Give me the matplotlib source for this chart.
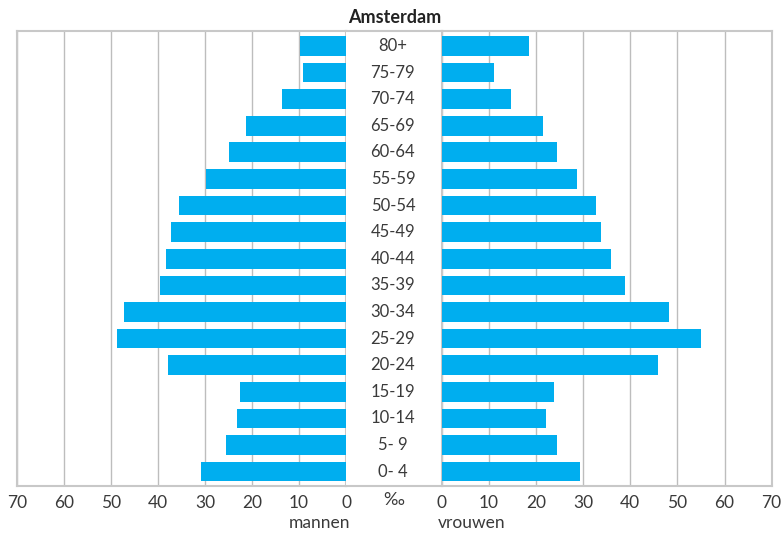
import matplotlib
matplotlib.use('Agg')
import matplotlib.pyplot as plt

plt.rcParams['font.family'] = ['Lato', 'DejaVu Sans']

age_groups = ['0- 4', '5- 9', '10-14', '15-19', '20-24', '25-29', '30-34', '35-39',
              '40-44', '45-49', '50-54', '55-59', '60-64', '65-69', '70-74', '75-79', '80+']
mannen = [30.8, 25.5, 23.2, 22.5, 37.8, 48.7, 47.2, 39.5,
          38.3, 37.2, 35.5, 29.8, 24.9, 21.3, 13.6, 9.1, 9.8]
vrouwen = [29.4, 24.5, 22.2, 23.9, 45.8, 55.1, 48.3, 38.8,
           36.0, 33.7, 32.8, 28.8, 24.5, 21.5, 14.7, 11.1, 18.6]
ticks = [0, 10, 20, 30, 40, 50, 60, 70]

bar_color = '#00AEEF'
frame_color = '#C8C8C8'
grid_color = '#BDBDBD'
text_color = '#3A3A3A'

fig = plt.figure(figsize=(7.82, 5.33), dpi=100)
y0, h = 0.0888, 0.853
ax_l = fig.add_axes([0.02136, y0, 0.4211, h])
ax_m = fig.add_axes([0.4425, y0, 0.1224, h])
ax_r = fig.add_axes([0.5648, y0, 0.4220, h])

pos = list(range(len(age_groups)))
ylim = (-0.53, len(age_groups) - 1 + 0.56)

for ax, vals in ((ax_l, mannen), (ax_r, vrouwen)):
    ax.barh(pos, vals, height=0.74, color=bar_color, zorder=3)
    ax.set_ylim(*ylim)
    ax.set_xticks(ticks)
    ax.set_xticklabels([str(t) for t in ticks])
    ax.set_yticks([])
    ax.tick_params(axis='x', length=0, pad=7, labelsize=12.5, labelcolor=text_color)
    ax.grid(axis='x', color=grid_color, linewidth=1.0, zorder=0)
    for s in ax.spines.values():
        s.set_color(frame_color)
        s.set_linewidth(1.5)

ax_l.set_xlim(70, 0)
ax_r.set_xlim(0, 70)

# middle column with age labels
ax_m.set_ylim(*ylim)
ax_m.set_xlim(0, 1)
ax_m.set_xticks([])
ax_m.set_yticks([])
ax_m.spines['left'].set_visible(False)
ax_m.spines['right'].set_visible(False)
for side in ('top', 'bottom'):
    ax_m.spines[side].set_color(frame_color)
    ax_m.spines[side].set_linewidth(1.5)
for p, lab in zip(pos, age_groups):
    ax_m.text(0.49, p, lab, ha='center', va='center', fontsize=12, color=text_color)

fig.text(0.503, 0.0615, '‰', ha='center', va='center', fontsize=13, color=text_color)
fig.text(0.448, 0.018, 'mannen', ha='right', va='center', fontsize=12.5, color=text_color)
fig.text(0.560, 0.018, 'vrouwen', ha='left', va='center', fontsize=12.5, color=text_color)
fig.text(0.505, 0.967, 'Amsterdam', ha='center', va='center', fontsize=13,
         fontweight='bold', color='#222222')

fig.savefig('out.png', dpi=100)
